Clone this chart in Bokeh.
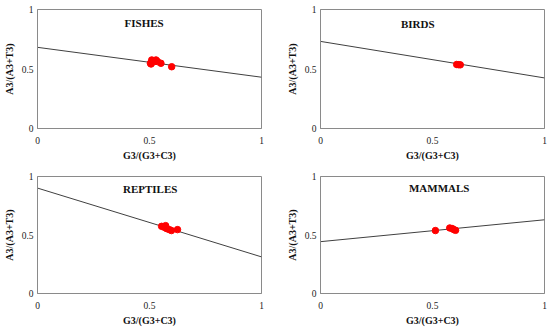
from bokeh.plotting import figure
from bokeh.layouts import column, row
from bokeh.models import Range1d, FixedTicker, Label
from bokeh.embed import file_html
from bokeh.resources import INLINE

# ---- data ----
titles = ["FISHES", "BIRDS", "REPTILES", "MAMMALS"]

fish_x = [0.507, 0.510, 0.521, 0.529, 0.536, 0.551, 0.599, 0.504]
fish_y = [0.542, 0.576, 0.562, 0.576, 0.562, 0.548, 0.519, 0.548]
fish_line = [0.682, 0.431]

bird_x = [0.608, 0.616, 0.624]
bird_y = [0.538, 0.536, 0.535]
bird_line = [0.732, 0.425]

rept_x = [0.554, 0.566, 0.576, 0.588, 0.598, 0.625, 0.572]
rept_y = [0.574, 0.566, 0.555, 0.546, 0.538, 0.546, 0.580]
rept_line = [0.901, 0.313]

mamm_x = [0.513, 0.577, 0.588, 0.595, 0.603]
mamm_y = [0.538, 0.560, 0.555, 0.546, 0.540]
mamm_line = [0.443, 0.630]

line_x = [0, 1]
ticks = [0, 0.5, 1]
tick_labels = {0: "0", 0.5: "0.5", 1: "1"}

x_title = "G3/(G3+C3)"
y_title = "A3/(A3+T3)"

SERIF = "Liberation Serif"
AXIS_GRAY = "#8a8a8a"


def make_panel(title, xs, ys, line_ends, title_x, title_y,
               width, height, left, right, top, bottom):
    p = figure(width=width, height=height,
               x_range=Range1d(0, 1), y_range=Range1d(0, 1),
               output_backend="svg", toolbar_location=None,
               min_border_left=left, min_border_right=right,
               min_border_top=top, min_border_bottom=bottom)
    p.grid.visible = False
    p.outline_line_color = AXIS_GRAY
    p.outline_line_width = 1
    p.background_fill_color = "white"
    p.border_fill_color = "white"
    for ax in (p.xaxis[0], p.yaxis[0]):
        ax.ticker = FixedTicker(ticks=ticks)
        ax.major_label_overrides = tick_labels
        ax.major_tick_out = 0
        ax.major_tick_in = 0
        ax.minor_tick_out = 0
        ax.minor_tick_in = 0
        ax.axis_line_color = AXIS_GRAY
        ax.major_label_text_font = SERIF
        ax.major_label_text_font_size = "9.5px"
        ax.major_label_text_color = "#222222"
        ax.axis_label_text_font = SERIF
        ax.axis_label_text_font_size = "10px"
        ax.axis_label_text_font_style = "bold"
        ax.axis_label_text_color = "#111111"
    p.xaxis.axis_label = x_title
    p.yaxis.axis_label = y_title
    p.xaxis.major_label_standoff = 8
    p.xaxis.axis_label_standoff = 3
    p.yaxis.major_label_standoff = 4
    p.yaxis.axis_label_standoff = 4

    p.line(line_x, line_ends, line_color="#404040", line_width=1)
    p.scatter(xs, ys, size=6.5, fill_color="#ff0000", line_color="#ff0000")
    p.add_layout(Label(x=title_x, y=title_y, text=title, text_font=SERIF,
                       text_font_size="11px", text_font_style="bold",
                       text_align="center", text_baseline="middle",
                       text_color="#111111"))
    return p


p1 = make_panel(titles[0], fish_x, fish_y, fish_line, 0.476, 0.89,
                283, 164, 36, 22, 9, 36)
p2 = make_panel(titles[1], bird_x, bird_y, bird_line, 0.434, 0.88,
                267, 164, 36, 6, 9, 36)
p3 = make_panel(titles[2], rept_x, rept_y, rept_line, 0.503, 0.89,
                283, 164, 36, 22, 12, 33)
p4 = make_panel(titles[3], mamm_x, mamm_y, mamm_line, 0.53, 0.90,
                267, 164, 36, 6, 12, 33)

layout = column(row(p1, p2), row(p3, p4))

open("out.html", "w").write(file_html(layout, INLINE))
